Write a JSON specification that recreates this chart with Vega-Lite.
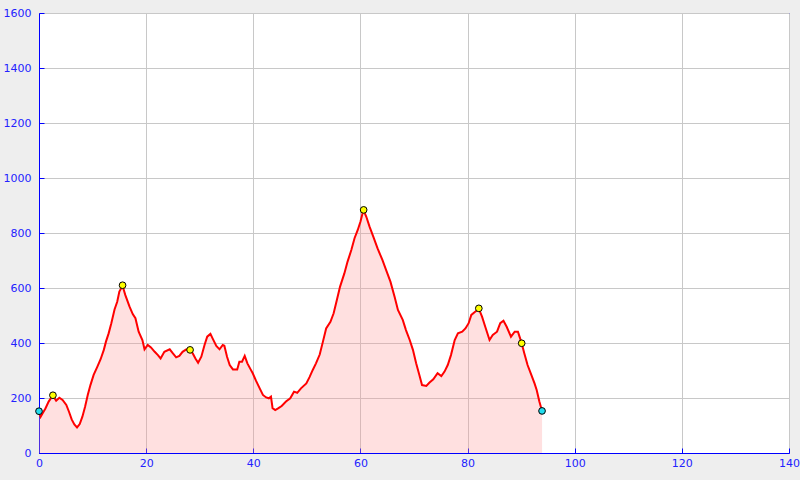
{
  "$schema": "https://vega.github.io/schema/vega-lite/v6.json",
  "width": 750,
  "height": 440,
  "autosize": {"type": "none"},
  "padding": {"left": 39, "top": 13, "right": 11, "bottom": 27},
  "background": "#eeeeee",
  "config": {
    "view": {"stroke": "#0000ff", "strokeWidth": 1, "fill": "#ffffff"},
    "font": "DejaVu Sans",
    "axis": {
      "labelFont": "DejaVu Sans",
      "labelFontSize": 11,
      "labelColor": "#2222ff",
      "domainColor": "#0000ff",
      "tickColor": "#0000ff",
      "tickSize": -5,
      "gridColor": "#c8c8c8",
      "gridOpacity": 1,
      "title": null,
      "format": "d",
      "labelFlush": false,
      "labelOverlap": false
    }
  },
  "datasets": {
    "profile": [
      {"km": 0, "elev": 150}, {"km": 0.3, "elev": 132}, {"km": 0.6, "elev": 142}, {"km": 1.2, "elev": 162},
      {"km": 1.8, "elev": 187}, {"km": 2.3, "elev": 201}, {"km": 2.6, "elev": 208}, {"km": 3.2, "elev": 190},
      {"km": 3.8, "elev": 201}, {"km": 4.4, "elev": 193}, {"km": 5.1, "elev": 175}, {"km": 5.6, "elev": 150},
      {"km": 6.1, "elev": 122}, {"km": 6.6, "elev": 104}, {"km": 7.1, "elev": 93}, {"km": 7.6, "elev": 105},
      {"km": 8.1, "elev": 132}, {"km": 8.6, "elev": 168}, {"km": 9.1, "elev": 211}, {"km": 9.6, "elev": 247},
      {"km": 10.2, "elev": 284}, {"km": 10.9, "elev": 314}, {"km": 11.5, "elev": 341}, {"km": 12.1, "elev": 375},
      {"km": 12.5, "elev": 405}, {"km": 13.0, "elev": 435}, {"km": 13.5, "elev": 472}, {"km": 14.1, "elev": 522},
      {"km": 14.6, "elev": 550}, {"km": 15.0, "elev": 587}, {"km": 15.6, "elev": 608}, {"km": 16.1, "elev": 575},
      {"km": 16.9, "elev": 532}, {"km": 17.5, "elev": 505}, {"km": 18.0, "elev": 490}, {"km": 18.6, "elev": 441},
      {"km": 19.3, "elev": 411}, {"km": 19.7, "elev": 377}, {"km": 20.3, "elev": 393}, {"km": 20.9, "elev": 384},
      {"km": 21.6, "elev": 368}, {"km": 22.2, "elev": 356}, {"km": 22.7, "elev": 344}, {"km": 23.4, "elev": 368},
      {"km": 24.4, "elev": 377}, {"km": 25.0, "elev": 362}, {"km": 25.6, "elev": 348}, {"km": 26.2, "elev": 353},
      {"km": 26.8, "elev": 368}, {"km": 27.5, "elev": 377}, {"km": 28.2, "elev": 373}, {"km": 28.7, "elev": 362},
      {"km": 29.2, "elev": 344}, {"km": 29.7, "elev": 328}, {"km": 30.3, "elev": 350}, {"km": 30.9, "elev": 393},
      {"km": 31.4, "elev": 423}, {"km": 32.0, "elev": 433}, {"km": 32.4, "elev": 417}, {"km": 33.1, "elev": 389},
      {"km": 33.7, "elev": 377}, {"km": 34.3, "elev": 393}, {"km": 34.6, "elev": 390}, {"km": 35.1, "elev": 350},
      {"km": 35.6, "elev": 320}, {"km": 36.2, "elev": 304}, {"km": 37.0, "elev": 304}, {"km": 37.4, "elev": 332},
      {"km": 37.9, "elev": 332}, {"km": 38.4, "elev": 353}, {"km": 38.9, "elev": 326}, {"km": 39.5, "elev": 304},
      {"km": 39.9, "elev": 290}, {"km": 40.5, "elev": 263}, {"km": 41.2, "elev": 235}, {"km": 41.8, "elev": 211},
      {"km": 42.4, "elev": 202}, {"km": 42.9, "elev": 199}, {"km": 43.3, "elev": 205}, {"km": 43.6, "elev": 163},
      {"km": 44.1, "elev": 156}, {"km": 44.7, "elev": 163}, {"km": 45.3, "elev": 171}, {"km": 46.1, "elev": 187},
      {"km": 46.9, "elev": 199}, {"km": 47.6, "elev": 223}, {"km": 48.2, "elev": 219}, {"km": 48.9, "elev": 235},
      {"km": 49.9, "elev": 253}, {"km": 50.5, "elev": 276}, {"km": 51.1, "elev": 302}, {"km": 51.7, "elev": 326},
      {"km": 52.4, "elev": 358}, {"km": 53.0, "elev": 405}, {"km": 53.6, "elev": 453}, {"km": 54.4, "elev": 477},
      {"km": 55.0, "elev": 508}, {"km": 55.6, "elev": 556}, {"km": 56.2, "elev": 605}, {"km": 57.0, "elev": 653},
      {"km": 57.6, "elev": 696}, {"km": 58.3, "elev": 738}, {"km": 58.9, "elev": 781}, {"km": 59.5, "elev": 811},
      {"km": 60.0, "elev": 841}, {"km": 60.4, "elev": 872}, {"km": 60.6, "elev": 882}, {"km": 61.1, "elev": 859},
      {"km": 61.7, "elev": 823}, {"km": 62.4, "elev": 787}, {"km": 63.2, "elev": 744}, {"km": 64.1, "elev": 702},
      {"km": 64.8, "elev": 665}, {"km": 65.6, "elev": 623}, {"km": 66.4, "elev": 566}, {"km": 67.0, "elev": 520},
      {"km": 67.9, "elev": 484}, {"km": 68.5, "elev": 447}, {"km": 69.2, "elev": 411}, {"km": 69.8, "elev": 375},
      {"km": 70.4, "elev": 326}, {"km": 71.0, "elev": 284}, {"km": 71.5, "elev": 247}, {"km": 72.3, "elev": 244},
      {"km": 72.9, "elev": 256}, {"km": 73.6, "elev": 268}, {"km": 74.4, "elev": 290}, {"km": 75.1, "elev": 280},
      {"km": 75.7, "elev": 296}, {"km": 76.3, "elev": 320}, {"km": 76.9, "elev": 356}, {"km": 77.6, "elev": 411},
      {"km": 78.2, "elev": 435}, {"km": 79.0, "elev": 441}, {"km": 79.6, "elev": 453}, {"km": 80.2, "elev": 472},
      {"km": 80.7, "elev": 502}, {"km": 81.3, "elev": 512}, {"km": 82.1, "elev": 524}, {"km": 82.7, "elev": 496},
      {"km": 83.3, "elev": 459}, {"km": 84.1, "elev": 411}, {"km": 84.7, "elev": 429}, {"km": 85.5, "elev": 441},
      {"km": 86.1, "elev": 472}, {"km": 86.7, "elev": 481}, {"km": 87.3, "elev": 459}, {"km": 88.1, "elev": 423},
      {"km": 88.8, "elev": 441}, {"km": 89.4, "elev": 441}, {"km": 89.7, "elev": 423}, {"km": 90.1, "elev": 399},
      {"km": 90.6, "elev": 362}, {"km": 91.2, "elev": 320}, {"km": 91.9, "elev": 284}, {"km": 92.5, "elev": 253},
      {"km": 92.9, "elev": 229}, {"km": 93.4, "elev": 187}, {"km": 93.9, "elev": 153}
    ],
    "markers": [
      {"km": 0, "elev": 152, "kind": "end"},
      {"km": 2.6, "elev": 210, "kind": "summit"},
      {"km": 15.6, "elev": 610, "kind": "summit"},
      {"km": 28.2, "elev": 375, "kind": "summit"},
      {"km": 60.6, "elev": 884, "kind": "summit"},
      {"km": 82.1, "elev": 526, "kind": "summit"},
      {"km": 90.1, "elev": 399, "kind": "summit"},
      {"km": 93.9, "elev": 153, "kind": "end"}
    ]
  },
  "encoding": {
    "x": {
      "field": "km", "type": "quantitative",
      "scale": {"domain": [0, 140], "nice": false, "zero": false},
      "axis": {"values": [0, 20, 40, 60, 80, 100, 120, 140], "labelPadding": 9, "grid": true}
    },
    "y": {
      "field": "elev", "type": "quantitative",
      "scale": {"domain": [0, 1600], "nice": false},
      "axis": {"values": [0, 200, 400, 600, 800, 1000, 1200, 1400, 1600], "labelPadding": 13, "grid": true}
    }
  },
  "layer": [
    {
      "data": {"name": "profile"},
      "mark": {"type": "area", "fill": "#ff9999", "fillOpacity": 0.3}
    },
    {
      "data": {"name": "profile"},
      "mark": {"type": "line", "stroke": "#ff0000", "strokeWidth": 2}
    },
    {
      "data": {"name": "markers"},
      "mark": {"type": "point", "filled": true, "shape": "circle", "size": 45, "stroke": "#000000", "strokeWidth": 1, "opacity": 1},
      "encoding": {
        "fill": {
          "field": "kind", "type": "nominal",
          "scale": {"domain": ["end", "summit"], "range": ["#22ddee", "#ffff00"]},
          "legend": null
        }
      }
    }
  ]
}
